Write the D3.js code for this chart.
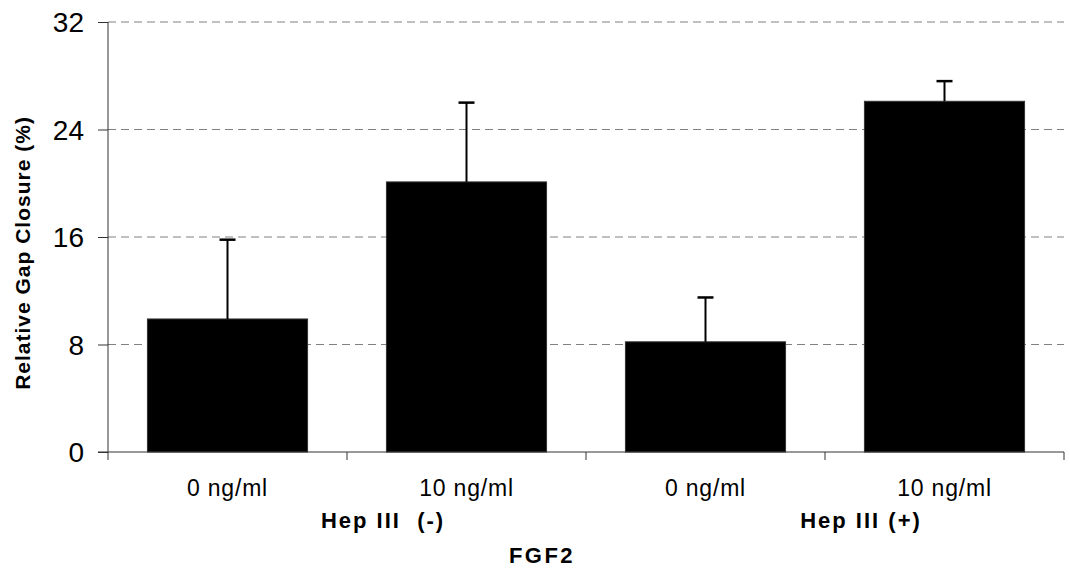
<!DOCTYPE html>
<html><head><meta charset="utf-8">
<script src="https://cdn.jsdelivr.net/npm/d3@7"></script>
<style>body{margin:0;background:#fff}svg{display:block}text{font-family:"Liberation Sans",Arial,sans-serif;white-space:pre}</style>
</head><body><div id="chart"></div>
<script>
const categories = ["0 ng/ml", "10 ng/ml", "0 ng/ml", "10 ng/ml"];
const means = [9.9, 20.1, 8.2, 26.1];
const errors = [5.9, 5.9, 3.3, 1.5];
const groups = ["Hep III  (-)", "Hep III (+)"];
const yTicks = [0, 8, 16, 24, 32];
const yTitle = "Relative Gap Closure (%)";
const xTitle = "FGF2";

const W = 1070, H = 571;
const m = {left: 108, right: 6, top: 22, bottom: 119};
const svg = d3.select("#chart").append("svg").attr("width", W).attr("height", H);
const iw = W - m.left - m.right, ih = H - m.top - m.bottom;
const g = svg.append("g").attr("transform", `translate(${m.left},${m.top})`);

const x = d3.scaleBand().domain(d3.range(categories.length)).range([0, iw]).paddingInner(0.33).paddingOuter(0.165);
const y = d3.scaleLinear().domain([0, 32]).range([ih, 0]);

// gridlines
g.selectAll(".grid").data(yTicks.filter(d => d > 0)).join("line")
  .attr("x1", 0).attr("x2", iw).attr("y1", d => y(d)).attr("y2", d => y(d))
  .attr("stroke", "#808080").attr("stroke-width", 1).attr("stroke-dasharray", "8,5");

// bars
g.selectAll(".bar").data(means).join("rect")
  .attr("x", (d, i) => x(i)).attr("width", x.bandwidth())
  .attr("y", d => y(d)).attr("height", d => ih - y(d))
  .attr("fill", "#000").attr("stroke", "#333").attr("stroke-width", 1);

// error bars
const cx = i => x(i) + x.bandwidth() / 2;
g.selectAll(".err").data(means).join("line")
  .attr("x1", (d, i) => cx(i)).attr("x2", (d, i) => cx(i))
  .attr("y1", d => y(d)).attr("y2", (d, i) => y(d + errors[i]))
  .attr("stroke", "#000").attr("stroke-width", 2);
g.selectAll(".cap").data(means).join("line")
  .attr("x1", (d, i) => cx(i) - 8).attr("x2", (d, i) => cx(i) + 8)
  .attr("y1", (d, i) => y(d + errors[i])).attr("y2", (d, i) => y(d + errors[i]))
  .attr("stroke", "#000").attr("stroke-width", 2.5);

// y axis
const ya = g.append("g").call(d3.axisLeft(y).tickValues(yTicks).tickSize(10).tickPadding(14));
ya.select(".domain").remove();
ya.selectAll(".tick line").attr("stroke", "#333");
ya.selectAll(".tick text").attr("font-size", 28).attr("fill", "#000").attr("dy", "0.34em");
g.append("line").attr("x1", 0).attr("x2", 0).attr("y1", 0).attr("y2", ih + 8).attr("stroke", "#333");

// x axis
g.append("line").attr("x1", -10).attr("x2", iw).attr("y1", ih).attr("y2", ih).attr("stroke", "#333");
const step = x.step();
const bounds = d3.range(categories.length + 1).map(i => i * step);
g.selectAll(".xt").data(bounds.slice(1)).join("line")
  .attr("x1", d => d).attr("x2", d => d).attr("y1", ih).attr("y2", ih + 8).attr("stroke", "#333");
g.selectAll(".xl").data(categories).join("text")
  .attr("x", (d, i) => cx(i)).attr("y", ih + 44)
  .attr("text-anchor", "middle").attr("font-size", 23).attr("letter-spacing", 0.8).text(d => d);
g.selectAll(".gl").data(groups).join("text")
  .attr("x", (d, i) => (i * 2 + 1) * step + 36).attr("y", ih + 76)
  .attr("text-anchor", "middle").attr("font-size", 22).attr("font-weight", "bold").attr("letter-spacing", 2).text(d => d);
g.append("text").attr("x", iw / 2 - 44).attr("y", ih + 111)
  .attr("text-anchor", "middle").attr("font-size", 22).attr("font-weight", "bold").attr("letter-spacing", 2.5).text(xTitle);

svg.append("text").attr("transform", `translate(30,${m.top + ih / 2 + 16}) rotate(-90)`)
  .attr("text-anchor", "middle").attr("font-size", 21).attr("font-weight", "bold").attr("letter-spacing", 1).text(yTitle);
</script></body></html>
